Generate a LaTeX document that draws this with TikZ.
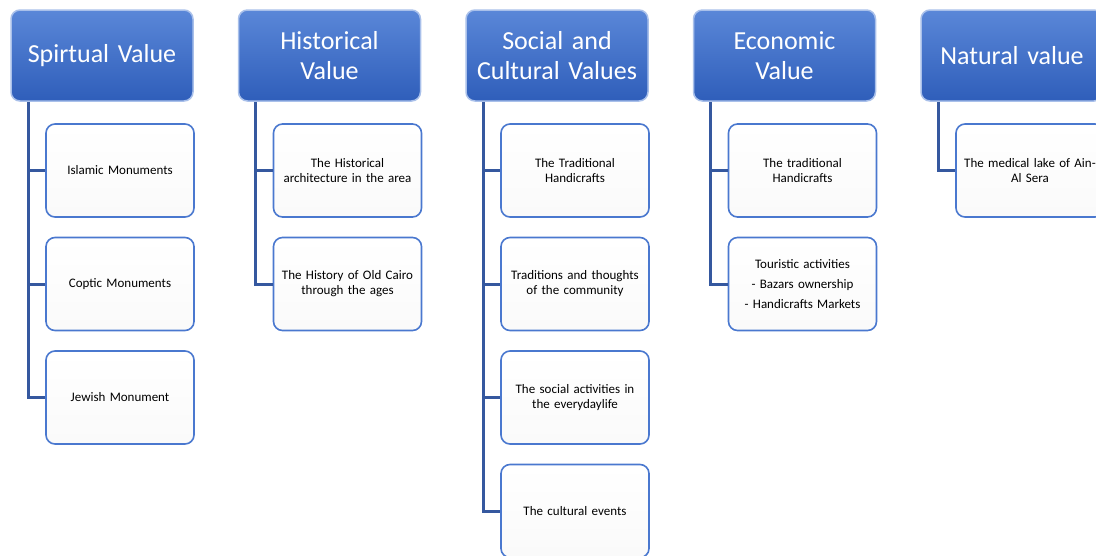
\documentclass[tikz,border=0pt]{standalone}
\usepackage{fontspec}
\setmainfont{Carlito}
\usetikzlibrary{calc}
\definecolor{hdrtop}{HTML}{5A87D8}
\definecolor{hdrbot}{HTML}{2F5EBA}
\definecolor{hdredge}{HTML}{A9C0EA}
\definecolor{boxedge}{HTML}{4A78CF}
\definecolor{connc}{HTML}{35589F}
\tikzset{
  hdr/.style={draw=hdredge, line width=1.5pt, rounded corners=9pt, top color=hdrtop, bottom color=hdrbot,
    minimum width=182pt, minimum height=91pt, inner sep=0pt, text=white, font=\fontsize{26}{30}\selectfont,
    align=center, text width=180pt},
  child/.style={draw=boxedge, line width=1.6pt, rounded corners=9pt, top color=white, bottom color=black!2,
    minimum width=148pt, minimum height=93pt, inner sep=0pt, font=\fontsize{13}{15}\selectfont,
    align=center, text width=144pt},
  conn/.style={draw=connc, line width=3pt}
}
\begin{document}
\begin{tikzpicture}[x=1pt,y=-1pt]
\useasboundingbox (0,0) rectangle (1096,555);
\clip (0,0) rectangle (1096,555);
% headers
\node[hdr] (h1) at (102,55.5) {Spirtual Value};
\node[hdr] (h2) at (329.5,55.5) {Historical\\Value};
\node[hdr] (h3) at (557,55.5) {Social and\\Cultural Values};
\node[hdr] (h4) at (784.5,55.5) {Economic\\Value};
\node[hdr] (h5) at (1012,55.5) {Natural value};
% children
\node[child] (c11) at (120,170.5) {Islamic Monuments};
\node[child] (c12) at (120,284) {Coptic Monuments};
\node[child] (c13) at (120,397.5) {Jewish Monument};
\node[child] (c21) at (347.5,170.5) {The Historical\\architecture in the area};
\node[child] (c22) at (347.5,284) {The History of Old Cairo\\through the ages};
\node[child] (c31) at (575,170.5) {The Traditional\\Handicrafts};
\node[child] (c32) at (575,284) {Traditions and thoughts\\of the community};
\node[child] (c33) at (575,397.5) {The social activities in\\the everydaylife};
\node[child] (c34) at (575,511) {The cultural events};
\node[child] (c41) at (802.5,170.5) {The traditional\\Handicrafts};
\node[child] (c42) at (802.5,284) {Touristic activities\\[5pt]- Bazars ownership\\[5pt]- Handicrafts Markets};
\node[child] (c51) at (1030,170.5) {The medical lake of Ain-\\Al Sera};
% connectors
\coordinate (t1) at ([xshift=18pt]h1.south west);
\coordinate (t2) at ([xshift=18pt]h2.south west);
\coordinate (t3) at ([xshift=18pt]h3.south west);
\coordinate (t4) at ([xshift=18pt]h4.south west);
\coordinate (t5) at ([xshift=18pt]h5.south west);
\draw[conn] (t1) |- (c13.west);
\draw[conn] (t1 |- c11.west) -- (c11.west);
\draw[conn] (t1 |- c12.west) -- (c12.west);
\draw[conn] (t2) |- (c22.west);
\draw[conn] (t2 |- c21.west) -- (c21.west);
\draw[conn] (t3) |- (c34.west);
\draw[conn] (t3 |- c31.west) -- (c31.west);
\draw[conn] (t3 |- c32.west) -- (c32.west);
\draw[conn] (t3 |- c33.west) -- (c33.west);
\draw[conn] (t4) |- (c42.west);
\draw[conn] (t4 |- c41.west) -- (c41.west);
\draw[conn] (t5) |- (c51.west);
\end{tikzpicture}
\end{document}
